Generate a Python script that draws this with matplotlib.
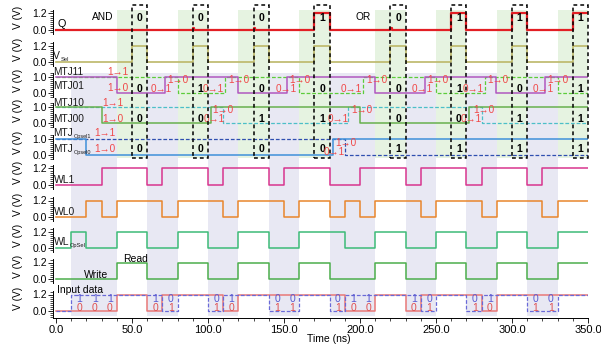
import matplotlib
matplotlib.use("Agg")
import matplotlib.pyplot as plt
import matplotlib.transforms as mtransforms
from matplotlib.patches import Rectangle
from matplotlib.ticker import MultipleLocator

plt.rcParams['font.family'] = ['Liberation Sans', 'DejaVu Sans']

# -----------------------------------------------
# DATA (times in ns, levels in V / logic)
# -----------------------------------------------
T_END = 350

read_phase = [(40, 60), (80, 100), (120, 140), (160, 180), (210, 230), (250, 270), (290, 310), (330, 350)]
write_phase = [(10, 40), (60, 80), (100, 120), (140, 160), (180, 210), (230, 250), (270, 290), (310, 330)]
read_win = [50, 90, 130, 170, 220, 260, 300, 340]   # Vsel pulses, 10 ns long

q_bits = ['0', '0', '0', '1', '0', '1', '1', '1']
mtj01_bits = ['0', '1', '0', '0', '0', '1', '0', '1']
mtj00_bits = ['0', '0', '1', '1', '0', '0', '1', '1']
opsel_bits = ['0', '0', '0', '0', '1', '1', '1', '1']

q_t = [0, 90, 90.8, 130, 130.8, 170, 180, 220, 220.8, 260, 270, 300, 310, 340]
q_v = [0, 0.15, 0, 0.15, 0, 1.2, 0, 0.15, 0, 1.2, 0, 1.2, 0, 1.2]

vsel_t = [0, 50, 60, 90, 100, 130, 140, 170, 180, 220, 230, 260, 270, 300, 310, 340]
vsel_v = [0, 1.2, 0, 1.2, 0, 1.2, 0, 1.2, 0, 1.2, 0, 1.2, 0, 1.2, 0, 1.2]

mtj01_t = [0, 40, 72, 120, 152, 210, 243, 289.5, 322]
mtj01_v = [1, 0, 1, 0, 1, 0, 1, 0, 1]
mtj11_t = [0, 80, 111, 160, 202, 250, 282, 330]
mtj11_v = [1, 0, 1, 0, 1, 0, 1, 0]

mtj00_t = [0, 30, 102, 200, 272]
mtj00_v = [1, 0, 1, 0, 1]
mtj10_t = [0, 110, 192, 280]
mtj10_v = [1, 0, 1, 0]

opsel0_t = [0, 20, 182]
opsel0_v = [1, 0, 1]
opsel1_t = [0, 190]
opsel1_v = [1, 0]

wl1_t = [0, 30, 60, 70, 100, 110, 140, 150, 180, 200, 230, 240, 270, 280, 310, 320]
wl1_v = [0, 1.2, 0, 1.2, 0, 1.2, 0, 1.2, 0, 1.2, 0, 1.2, 0, 1.2, 0, 1.2]

wl0_t = [0, 20, 30, 40, 70, 80, 110, 120, 150, 160, 180, 190, 200, 210, 240, 250, 280, 290, 320, 330]
wl0_v = [0, 1.2, 0, 1.2, 0, 1.2, 0, 1.2, 0, 1.2, 0, 1.2, 0, 1.2, 0, 1.2, 0, 1.2, 0, 1.2]

wlop_t = [0, 10, 20, 40, 60, 80, 100, 120, 140, 160, 190, 210, 230, 250, 270, 290, 310, 330]
wlop_v = [0, 1.2, 0, 1.2, 0, 1.2, 0, 1.2, 0, 1.2, 0, 1.2, 0, 1.2, 0, 1.2, 0, 1.2]

rw_t = [0, 40, 60, 80, 100, 120, 140, 160, 180, 210, 230, 250, 270, 290, 310, 330]
rw_v = [0, 1.2, 0, 1.2, 0, 1.2, 0, 1.2, 0, 1.2, 0, 1.2, 0, 1.2, 0, 1.2]

din_t = [0, 40, 60, 70, 110, 120, 190, 210, 230, 240, 280, 290]
din_v = [0, 1.2, 0, 1.2, 0, 1.2, 0, 1.2, 0, 1.2, 0, 1.2]
dinb_t = [0, 10, 70, 80, 100, 110, 140, 160, 180, 190, 240, 250, 270, 280, 310, 330]
dinb_v = [0, 1.2, 0, 1.2, 0, 1.2, 0, 1.2, 0, 1.2, 0, 1.2, 0, 1.2, 0, 1.2]

in_mid = [15, 25, 35, 65, 75, 105, 115, 145, 155, 185, 195, 205, 235, 245, 275, 285, 315, 325]
in_top = ['1', '1', '1', '1', '0', '0', '1', '0', '0', '0', '1', '1', '1', '0', '0', '1', '0', '0']
in_bot = ['0', '0', '0', '0', '1', '1', '0', '1', '1', '1', '0', '0', '0', '1', '1', '0', '1', '1']

ARROW = '\u2192'
# (text, centre time, level) for the red switching notes
notes_p3 = [('1' + ARROW + '1', 40.5, 1.33), ('1' + ARROW + '0', 40.5, 0.33),
            ('0' + ARROW + '1', 69.5, 0.27), ('1' + ARROW + '0', 80.5, 0.8),
            ('0' + ARROW + '1', 103.5, 0.27), ('1' + ARROW + '0', 120, 0.8),
            ('0' + ARROW + '1', 151.5, 0.27), ('1' + ARROW + '0', 160.5, 0.8),
            ('0' + ARROW + '1', 194.5, 0.27), ('1' + ARROW + '0', 211, 0.8),
            ('0' + ARROW + '1', 241, 0.27), ('1' + ARROW + '0', 251.5, 0.8),
            ('0' + ARROW + '1', 274.5, 0.27), ('1' + ARROW + '0', 291, 0.8),
            ('0' + ARROW + '1', 320.5, 0.27), ('1' + ARROW + '0', 330.5, 0.8)]
notes_p4 = [('1' + ARROW + '1', 37.5, 1.25), ('1' + ARROW + '0', 37.5, 0.25),
            ('0' + ARROW + '1', 104, 0.23), ('1' + ARROW + '0', 110, 0.79),
            ('0' + ARROW + '1', 186, 0.23), ('1' + ARROW + '0', 201, 0.79),
            ('0' + ARROW + '1', 273, 0.23), ('1' + ARROW + '0', 281.5, 0.79)]
notes_p5 = [('1' + ARROW + '1', 32, 1.37), ('1' + ARROW + '0', 32, 0.37),
            ('0' + ARROW + '1', 183, 0.2), ('1' + ARROW + '0', 190.5, 0.73)]

# -----------------------------------------------
# LAYOUT (pixels of the 601x345 picture)
# -----------------------------------------------
W, H = 601, 345
X0_PX, X1_PX = 53, 588
T_MIN = -2.0
PPU_V = 13.75      # px per volt
PPU_M = 16.0       # px per logic unit
RED_NOTE = '#f04848'

fig = plt.figure(figsize=(W / 100, H / 100), dpi=100)
renderer = fig.canvas.get_renderer()


def fx(px):
    return px / W


def fy(py):
    return 1 - py / H


def make_axes(y0, ppu, vtop, bot_px=None, minor=0.15):
    top_px = y0 - 20
    if bot_px is None:
        bot_px = y0 + 4
    ax = fig.add_axes([fx(X0_PX), fy(bot_px), (X1_PX - X0_PX) / W, (bot_px - top_px) / H])
    ax.set_xlim(T_MIN, T_END)
    ax.set_ylim(-(bot_px - y0) / ppu, (y0 - top_px) / ppu)
    ax.patch.set_visible(False)
    for s in ['top', 'right', 'bottom']:
        ax.spines[s].set_visible(False)
    ax.spines['left'].set_linewidth(0.7)
    ax.set_yticks([0, vtop])
    ax.set_yticklabels(['0.0', f'{vtop:.1f}'])
    ax.yaxis.set_minor_locator(MultipleLocator(minor))
    ax.tick_params(axis='y', which='major', direction='out', length=3.5, width=0.6, labelsize=7.5, pad=1)
    ax.tick_params(axis='y', which='minor', direction='out', length=2.5, width=0.5)
    ax.tick_params(axis='x', which='both', bottom=False, labelbottom=False)
    fig.text(fx(18), fy(y0 - 13), 'V (V)', rotation=90, ha='center', va='center', fontsize=7.3)
    return ax


def step(ax, t, v, **kw):
    ax.step(list(t) + [T_END], list(v) + [v[-1]], where='post', **kw)


def name(ax, t, lvl, main, sub=None, fs=7.3):
    txt = ax.text(t, lvl, main, fontsize=fs, va='baseline', color='#1a1a1a')
    if sub:
        bb = txt.get_window_extent(renderer=renderer)
        x_px = bb.x1 + 0.5
        y_base = ax.transData.transform((t, lvl))[1]
        fig.text(x_px / W, (y_base - 2.2) / H, sub, fontsize=fs * 0.55,
                 va='baseline', color='#1a1a1a')


y0s = [30, 62, 93, 123, 155, 185, 217, 248, 279, 311]
ax_q = make_axes(y0s[0], PPU_V, 1.2)
ax_vs = make_axes(y0s[1], PPU_V, 1.2)
ax_m1 = make_axes(y0s[2], PPU_M, 1.0, minor=0.125)
ax_m0 = make_axes(y0s[3], PPU_M, 1.0, minor=0.125)
ax_op = make_axes(y0s[4], PPU_M, 1.0, minor=0.125)
ax_w1 = make_axes(y0s[5], PPU_V, 1.2)
ax_w0 = make_axes(y0s[6], PPU_V, 1.2)
ax_wo = make_axes(y0s[7], PPU_V, 1.2)
ax_rw = make_axes(y0s[8], PPU_V, 1.2)
ax_in = make_axes(y0s[9], PPU_V, 1.2, bot_px=318)

# bottom time axis
ax_in.spines['bottom'].set_visible(True)
ax_in.spines['bottom'].set_linewidth(0.7)
ax_in.set_xticks(range(0, 351, 50))
ax_in.set_xticklabels([f'{x:.1f}' for x in range(0, 351, 50)])
ax_in.xaxis.set_minor_locator(MultipleLocator(10))
ax_in.tick_params(axis='x', which='major', bottom=True, labelbottom=True, direction='out',
                  length=3.5, width=0.6, labelsize=8, pad=1.5)
ax_in.tick_params(axis='x', which='minor', bottom=True, direction='out', length=2.5, width=0.5)
fig.text(fx(329), fy(339), 'Time (ns)', ha='center', va='center', fontsize=7.5)

# shaded phases spanning several panels
trans = mtransforms.blended_transform_factory(ax_in.transData, fig.transFigure)
for t0, t1 in read_phase:
    fig.add_artist(Rectangle((t0, fy(158)), t1 - t0, (158 - 10) / H, transform=trans,
                             facecolor='#e6f3e1', edgecolor='none', zorder=-5))
for t0, t1 in write_phase:
    fig.add_artist(Rectangle((t0, fy(316)), t1 - t0, (316 - 73) / H, transform=trans,
                             facecolor='#e8e8f3', edgecolor='none', zorder=-5))
for t0 in read_win:
    fig.add_artist(Rectangle((t0, fy(157.5)), 10, (157.5 - 5) / H, transform=trans,
                             fill=False, edgecolor='black', linewidth=1.1,
                             linestyle=(0, (2.5, 2)), zorder=10))

# signals
step(ax_q, q_t, q_v, color='#e31e24', lw=1.6)
step(ax_vs, vsel_t, vsel_v, color='#bcb868', lw=1.2)
step(ax_m1, mtj11_t, mtj11_v, color='#5ccc3a', lw=0.9, ls=(0, (3, 1.5)))
step(ax_m1, mtj01_t, mtj01_v, color='#b058c0', lw=1.1)
step(ax_m0, mtj10_t, mtj10_v, color='#4cbfc8', lw=0.9, ls=(0, (3, 1.5)))
step(ax_m0, mtj00_t, mtj00_v, color='#68b04e', lw=1.1)
step(ax_op, opsel1_t, opsel1_v, color='#2f4fb0', lw=0.9, ls=(0, (3, 1.5)))
step(ax_op, opsel0_t, opsel0_v, color='#3f90da', lw=1.1)
step(ax_w1, wl1_t, wl1_v, color='#d8358e', lw=1.1)
step(ax_w0, wl0_t, wl0_v, color='#e8862c', lw=1.1)
step(ax_wo, wlop_t, wlop_v, color='#3dbb78', lw=1.1)
step(ax_rw, rw_t, rw_v, color='#4cae4c', lw=1.1)
step(ax_in, din_t, din_v, color='#e87878', lw=1.1)
step(ax_in, dinb_t, dinb_v, color='#6a6ad8', lw=0.9, ls=(0, (3, 1.5)))

# read results in the boxes
for t0, b in zip(read_win, q_bits):
    ax_q.text(t0 + 5, 0.87, b, ha='center', va='center', fontsize=7.5, fontweight='bold')
for ax, bits, lvl in [(ax_m1, mtj01_bits, 0.23), (ax_m0, mtj00_bits, 0.23), (ax_op, opsel_bits, 0.36)]:
    for t0, b in zip(read_win, bits):
        ax.text(t0 + 5, lvl, b, ha='center', va='center', fontsize=7.5, fontweight='bold')

for ax, notes in [(ax_m1, notes_p3), (ax_m0, notes_p4), (ax_op, notes_p5)]:
    for s, t, lvl in notes:
        ax.text(t, lvl, s, ha='center', va='center', fontsize=7.2, color=RED_NOTE)

for t, a, b in zip(in_mid, in_top, in_bot):
    ax_in.text(t + 0.5, 0.87, a, ha='center', va='center', fontsize=7.5, color='#5a5ad0')
    ax_in.text(t + 0.5, 0.22, b, ha='center', va='center', fontsize=7.5, color='#e05050')

# panel names
ax_q.text(0.7, 0.22, 'Q', fontsize=7.8, va='baseline')
ax_q.text(31, 0.73, 'AND', fontsize=7.3, ha='center', va='baseline')
ax_q.text(202, 0.73, 'OR', fontsize=7.3, ha='center', va='baseline')
name(ax_vs, -1.8, 0.22, 'V', 'Sel', fs=7.5)
name(ax_m1, -1.6, 1.12, 'MTJ11')
name(ax_m1, -1.6, 0.25, 'MTJ01')
name(ax_m0, -1.6, 1.06, 'MTJ10')
name(ax_m0, -1.6, 0.08, 'MTJ00')
name(ax_op, -1.6, 1.19, 'MTJ', 'Opsel1')
name(ax_op, -1.6, 0.19, 'MTJ', 'Opsel0')
name(ax_w1, -1.2, 0.12, 'WL1', fs=7.5)
name(ax_w0, -1.2, 0.12, 'WL0', fs=7.5)
name(ax_wo, -1.2, 0.2, 'WL', 'OpSel', fs=7.5)
ax_rw.text(52, 1.27, 'Read', fontsize=7.5, ha='center', va='baseline')
ax_rw.text(26.5, 0.05, 'Write', fontsize=7.5, ha='center', va='baseline')
ax_in.text(0.5, 1.28, 'Input data', fontsize=7.5, va='baseline')

fig.savefig('out.png', dpi=100)
